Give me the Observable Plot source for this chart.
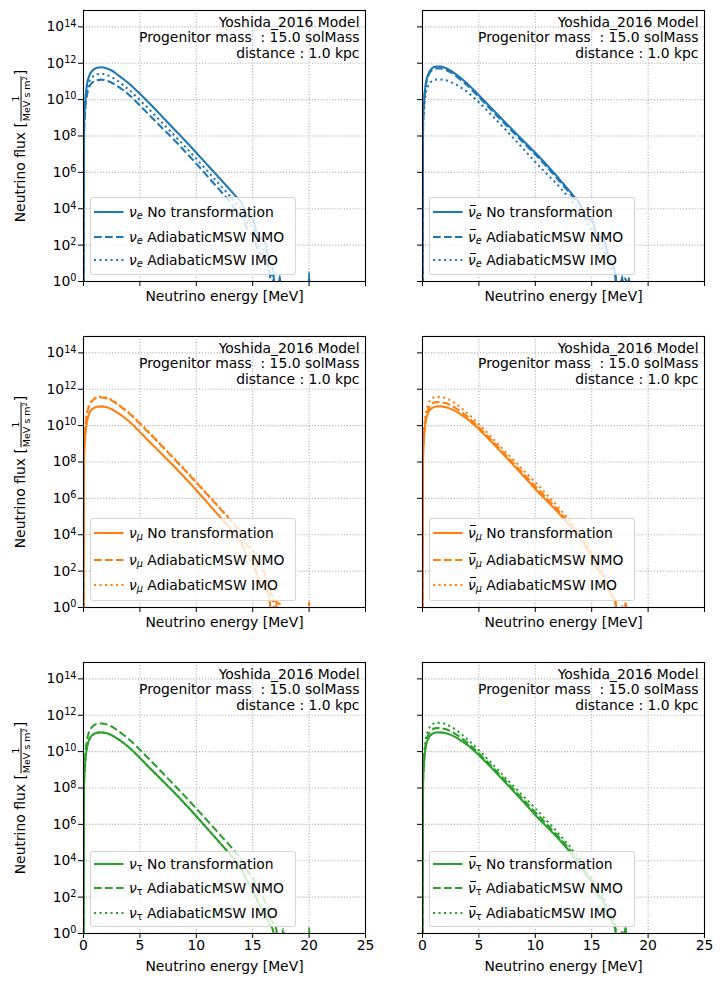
<!DOCTYPE html>
<html>
<head>
<meta charset="utf-8">
<script src="https://cdn.jsdelivr.net/npm/d3@7"></script>
<script src="https://cdn.jsdelivr.net/npm/@observablehq/plot@0.6"></script>
<style>
  body { margin: 0; background: #fff; font-family: "DejaVu Sans", sans-serif; }
  #fig { position: relative; width: 721px; height: 991px; background: #fff; }
  .panel { position: absolute; }
  .legend { position: absolute; box-sizing: border-box; width: 206px;
    background: rgba(255,255,255,0.8); border: 1px solid rgba(204,204,204,0.8);
    border-radius: 3px; font-size: 13.9px; color: #000; }
  .entry { position: absolute; left: 0; right: 0; height: 20px; transform: translateY(-50%); white-space: nowrap; }
  .entry svg { position: absolute; left: 3px; top: 9px; overflow: visible; }
  .entry .lbl { position: absolute; left: 38px; top: 0; line-height: 20px; }
  .nu { font-style: italic; }
  .bar { position: relative; display: inline-block; }
  .bar::before { content: ""; position: absolute; left: 0.12em; right: -0.02em; top: 0.2em; border-top: 1.2px solid currentColor; }
  .lbl sub { font-size: 0.7em; vertical-align: -0.25em; line-height: 0; }
  .lbl sub.it { font-style: italic; }
  .ylabel { position: absolute; white-space: nowrap; font-size: 13.9px; transform: translate(-50%, -50%) rotate(-90deg); }
  .frac { display: inline-flex; flex-direction: column; align-items: center; vertical-align: middle; font-size: 9.5px; line-height: 1.05; margin: 0 1px; }
  .frac .num { border-bottom: 0.8px solid #000; width: 100%; text-align: center; }
  .frac sup { font-size: 0.7em; vertical-align: 0.45em; line-height: 0; }
</style>
</head>
<body>
<div id="fig"></div>
<script>
// ---------------- data (flux given as log10 of 1/(MeV s m^2); null = zero flux) -------------
const energyMeV = [0, 0.05, 0.15, 0.3, 0.5, 0.8, 1.2, 1.6, 2, 2.5, 3, 3.5, 4, 5, 6, 7, 8, 9, 10, 11, 12, 12.5, 13, 13.5, 14, 14.5, 15, 15.5, 16, 16.5, 16.8, 17.1, 17.4, 17.7, 18, 18.3, 18.6, 19.9, 20, 20.1, 25];

const nue_none = [null, 8.6, 9.85, 10.8, 11.3, 11.6, 11.75, 11.78, 11.73, 11.6, 11.38, 11.15, 10.9, 10.32, 9.7, 9.05, 8.4, 7.75, 7.08, 6.4, 5.72, 5.38, 5.04, 4.68, 4.35, 3.6, 3.45, 2.4, 2.3, 1.1, 0.7, null, 0.3, null, null, null, null, null, 0.5, null, null];
const nue_nmo = [null, 8.21, 9.42, 10.23, 10.68, 10.95, 11.07, 11.1, 11.05, 10.93, 10.75, 10.53, 10.28, 9.68, 9.05, 8.43, 7.81, 7.15, 6.48, 5.78, 5.08, 4.73, 4.38, 3.93, 3.6, 2.9, 2.5, 1.7, 1.3, 0.45, null, null, null, null, null, null, null, null, null, null, null];
const nue_imo = [null, 8.36, 9.59, 10.48, 10.96, 11.25, 11.39, 11.42, 11.37, 11.24, 11.04, 10.81, 10.56, 9.97, 9.35, 8.71, 8.07, 7.42, 6.75, 6.06, 5.37, 5.03, 4.68, 4.3, 3.95, 3.25, 2.95, 2.0, 1.75, 0.6, 0.15, null, null, null, null, null, null, null, null, null, null];

const nuebar_none = [null, 8.8, 10.0, 10.9, 11.38, 11.7, 11.82, 11.82, 11.75, 11.6, 11.38, 11.13, 10.86, 10.24, 9.6, 8.96, 8.33, 7.7, 7.08, 6.42, 5.72, 5.36, 5.0, 4.62, 4.25, 3.5, 3.45, 2.45, 2.5, 1.3, 1.0, 0.4, null, 0.3, null, 0.2, null, null, null, null, null];
const nuebar_nmo = [null, 8.7, 9.9, 10.8, 11.28, 11.6, 11.72, 11.72, 11.65, 11.5, 11.28, 11.03, 10.76, 10.14, 9.5, 8.86, 8.23, 7.6, 6.98, 6.32, 5.62, 5.26, 4.9, 4.52, 4.15, 3.4, 3.35, 2.35, 2.4, 1.2, 0.9, 0.3, null, 0.2, null, 0.1, null, null, null, null, null];
const nuebar_imo = [null, 8.35, 9.55, 10.35, 10.75, 11.0, 11.1, 11.11, 11.07, 10.97, 10.82, 10.62, 10.41, 9.85, 9.23, 8.58, 7.92, 7.25, 6.57, 5.93, 5.3, 4.95, 4.6, 4.25, 3.85, 3.35, 2.85, 2.25, 1.75, 1.05, 0.65, 0.35, null, null, 0.25, null, null, null, null, null, null];

const numu_none = [null, 8.2, 9.4, 10.2, 10.65, 10.92, 11.04, 11.06, 11.02, 10.9, 10.72, 10.5, 10.25, 9.65, 9.02, 8.4, 7.78, 7.12, 6.45, 5.75, 5.05, 4.7, 4.35, 3.9, 3.55, 2.8, 2.5, 1.6, 1.3, 0.4, null, 0.2, null, null, null, null, null, null, null, null, null];
const numu_nmo = [null, 8.44, 9.68, 10.6, 11.09, 11.38, 11.53, 11.55, 11.51, 11.38, 11.17, 10.94, 10.69, 10.1, 9.48, 8.84, 8.19, 7.54, 6.87, 6.19, 5.5, 5.16, 4.82, 4.45, 4.1, 3.4, 3.2, 2.2, 2.0, 0.9, 0.5, 0.3, 0.15, null, null, null, null, null, 0.3, null, null];
const numu_imo = [null, 8.48, 9.72, 10.64, 11.13, 11.42, 11.57, 11.59, 11.55, 11.42, 11.21, 10.98, 10.73, 10.14, 9.52, 8.88, 8.23, 7.58, 6.91, 6.23, 5.54, 5.2, 4.86, 4.5, 4.05, 3.5, 3.15, 2.3, 1.9, 1.0, 0.4, null, 0.2, null, null, null, null, null, 0.3, null, null];

const numubar_none = [null, 8.3, 9.5, 10.3, 10.7, 10.95, 11.05, 11.06, 11.02, 10.92, 10.77, 10.57, 10.36, 9.8, 9.18, 8.53, 7.87, 7.2, 6.52, 5.88, 5.25, 4.9, 4.55, 4.2, 3.8, 3.3, 2.8, 2.2, 1.7, 1.0, 0.6, 0.3, null, null, 0.2, null, null, null, null, null, null];
const numubar_nmo = [null, 8.42, 9.62, 10.46, 10.9, 11.18, 11.29, 11.29, 11.24, 11.12, 10.93, 10.72, 10.48, 9.9, 9.28, 8.63, 7.98, 7.32, 6.67, 6.02, 5.36, 5.01, 4.65, 4.3, 3.9, 3.4, 2.9, 2.3, 1.8, 1.1, 0.7, 0.35, null, null, 0.25, null, null, null, null, null, null];
const numubar_imo = [null, 8.61, 9.81, 10.69, 11.16, 11.46, 11.58, 11.58, 11.52, 11.38, 11.17, 10.93, 10.67, 10.07, 9.44, 8.79, 8.15, 7.51, 6.88, 6.22, 5.54, 5.18, 4.83, 4.46, 4.05, 3.5, 3.0, 2.4, 2.0, 1.2, 0.8, 0.3, null, 0.1, null, null, null, null, null, null, null];

const nutau_none = [null, 8.2, 9.4, 10.2, 10.65, 10.92, 11.04, 11.06, 11.02, 10.9, 10.72, 10.5, 10.25, 9.65, 9.02, 8.4, 7.78, 7.12, 6.45, 5.75, 5.05, 4.7, 4.35, 3.95, 3.5, 2.9, 2.4, 1.7, 1.2, 0.5, 0.2, null, null, null, null, null, null, null, null, null, null];
const nutau_nmo = [null, 8.44, 9.68, 10.6, 11.09, 11.38, 11.53, 11.55, 11.51, 11.38, 11.17, 10.94, 10.69, 10.1, 9.48, 8.84, 8.19, 7.54, 6.87, 6.19, 5.5, 5.16, 4.82, 4.45, 4.05, 3.45, 3.1, 2.3, 1.9, 0.9, 0.6, 0.2, null, 0.25, null, null, null, null, 0.3, null, null];
const nutau_imo = [null, 8.2, 9.4, 10.2, 10.65, 10.92, 11.04, 11.06, 11.02, 10.9, 10.72, 10.5, 10.25, 9.65, 9.02, 8.4, 7.78, 7.12, 6.45, 5.75, 5.05, 4.7, 4.35, 3.95, 3.5, 2.9, 2.4, 1.7, 1.2, 0.5, 0.2, null, null, null, null, null, null, null, null, null, null];

const nutaubar_none = [null, 8.3, 9.5, 10.3, 10.7, 10.95, 11.05, 11.06, 11.02, 10.92, 10.77, 10.57, 10.36, 9.8, 9.18, 8.53, 7.87, 7.2, 6.52, 5.88, 5.25, 4.9, 4.55, 4.15, 3.85, 3.2, 2.85, 2.1, 1.8, 0.9, 0.7, 0.2, null, null, 0.3, null, null, null, null, null, null];
const nutaubar_nmo = [null, 8.42, 9.62, 10.46, 10.9, 11.18, 11.29, 11.29, 11.24, 11.12, 10.93, 10.72, 10.48, 9.9, 9.28, 8.63, 7.98, 7.32, 6.67, 6.02, 5.36, 5.01, 4.65, 4.25, 3.95, 3.3, 2.95, 2.2, 1.9, 1.0, 0.8, 0.3, null, null, 0.3, null, null, null, null, null, null];
const nutaubar_imo = [null, 8.61, 9.81, 10.69, 11.16, 11.46, 11.58, 11.58, 11.52, 11.38, 11.17, 10.93, 10.67, 10.07, 9.44, 8.79, 8.15, 7.51, 6.88, 6.22, 5.54, 5.18, 4.83, 4.42, 4.1, 3.4, 3.05, 2.3, 2.1, 1.1, 0.9, 0.2, null, 0.2, null, null, null, null, null, null, null];

const xTicks = [0, 5, 10, 15, 20, 25];
const yTicks = [1e0, 1e2, 1e4, 1e6, 1e8, 1e10, 1e12, 1e14];
const xLabel = "Neutrino energy [MeV]";
const annotationLines = ["Yoshida_2016 Model", "Progenitor mass\u00a0 : 15.0 solMass", "distance : 1.0 kpc"];
const transformationLabels = ["No transformation", "AdiabaticMSW NMO", "AdiabaticMSW IMO"];
const flavorColors = { e: "#1f77b4", mu: "#ff7f0e", tau: "#2ca02c" };

const panels = [
  { row: 0, col: 0, color: flavorColors.e,   bar: false, sub: "e", subItalic: true,  series: [nue_none, nue_nmo, nue_imo] },
  { row: 0, col: 1, color: flavorColors.e,   bar: true,  sub: "e", subItalic: true,  series: [nuebar_none, nuebar_nmo, nuebar_imo] },
  { row: 1, col: 0, color: flavorColors.mu,  bar: false, sub: "μ", subItalic: true,  series: [numu_none, numu_nmo, numu_imo] },
  { row: 1, col: 1, color: flavorColors.mu,  bar: true,  sub: "μ", subItalic: true,  series: [numubar_none, numubar_nmo, numubar_imo] },
  { row: 2, col: 0, color: flavorColors.tau, bar: false, sub: "τ", subItalic: false, series: [nutau_none, nutau_nmo, nutau_imo] },
  { row: 2, col: 1, color: flavorColors.tau, bar: true,  sub: "τ", subItalic: false, series: [nutaubar_none, nutaubar_nmo, nutaubar_imo] }
];

// ---------------- layout -------------
const rowTop = [0, 326, 652];
const colLeft = [0, 360];
const mLeft = [83, 62], mRight = [5, 10];
const mTop = 10, plotH = 271, plotW = 282;
const dashes = [null, "7.7,3.3", "2.1,3.4"];
const legendH = [78.5, 83, 76.5];
const legendRows = [[14.3, 39, 62.6], [13.5, 41, 65.5], [12, 36.6, 61.3]];

const supDigits = {"0":"⁰","1":"¹","2":"²","3":"³","4":"⁴","5":"⁵","6":"⁶","7":"⁷","8":"⁸","9":"⁹"};
const fromSup = Object.fromEntries(Object.entries(supDigits).map(([k, v]) => [v, k]));
const fmtPow = d => "10" + String(Math.round(Math.log10(d))).split("").map(c => supDigits[c]).join("");

const fig = document.getElementById("fig");
const SVGNS = "http://www.w3.org/2000/svg";

for (const p of panels) {
  const bottomRow = p.row === 2;
  const mBottom = bottomRow ? 50 : 45;
  const width = mLeft[p.col] + plotW + mRight[p.col];
  const height = mTop + plotH + mBottom;

  const marks = [
    Plot.ruleX(xTicks, { stroke: "#b0b0b0", strokeWidth: 1.1, strokeDasharray: "1.1,1.8" }),
    Plot.ruleY(yTicks, { stroke: "#b0b0b0", strokeWidth: 1.1, strokeDasharray: "1.1,1.8" })
  ];
  p.series.forEach((vals, i) => {
    const rows = energyMeV.map((e, k) => ({ energy: e, flux: vals[k] == null ? 0 : 10 ** vals[k] }));
    marks.push(Plot.line(rows, {
      x: "energy",
      y: d => Math.max(d.flux, 1e-2),   // non-positive flux clipped below the axis, as matplotlib does
      stroke: p.color, strokeWidth: 2.08,
      strokeDasharray: dashes[i] ?? undefined,
      strokeLinecap: i === 0 ? "square" : "butt",
      curve: "monotone-x", clip: true
    }));
  });
  marks.push(Plot.frame({ stroke: "black", strokeWidth: 1.1 }));
  marks.push(Plot.text([annotationLines.join("\n")], {
    text: d => d, frameAnchor: "top-right", dx: -6, dy: 5, lineAnchor: "top",
    textAnchor: "end", lineHeight: 1.13, fontSize: 13.9, fill: "black"
  }));
  marks.push(Plot.text([xLabel], {
    text: d => d, frameAnchor: "bottom", dy: bottomRow ? 37 : 19, fontSize: 13.9, fill: "black"
  }));

  const chart = Plot.plot({
    width, height,
    marginLeft: mLeft[p.col], marginRight: mRight[p.col], marginTop: mTop, marginBottom: mBottom,
    style: { fontFamily: "DejaVu Sans", fontSize: "13.9px", background: "none", color: "black", overflow: "visible" },
    x: { domain: [0, 25], ticks: xTicks, tickSize: 5, tickPadding: 2,
         tickFormat: bottomRow ? (d => String(d)) : (() => ""), label: null },
    y: { type: "log", domain: [1, 10 ** 14.9], ticks: yTicks, tickSize: 5, tickPadding: 2,
         tickFormat: p.col === 0 ? fmtPow : (() => ""), label: null },
    marks
  });

  // typeset "10^n" tick labels with a real raised superscript (like matplotlib mathtext)
  chart.querySelectorAll("text").forEach(t => {
    const m = /^10([⁰¹²³⁴⁵⁶⁷⁸⁹]+)$/.exec(t.textContent);
    if (!m) return;
    const exp = m[1].split("").map(c => fromSup[c]).join("");
    t.textContent = "10";
    const ts = document.createElementNS(SVGNS, "tspan");
    ts.setAttribute("dy", "-4.6");
    ts.setAttribute("font-size", "9.7");
    ts.textContent = exp;
    t.appendChild(ts);
  });

  const holder = document.createElement("div");
  holder.className = "panel";
  holder.style.left = colLeft[p.col] + "px";
  holder.style.top = rowTop[p.row] + "px";
  holder.style.width = width + "px";
  holder.style.height = height + "px";
  holder.appendChild(chart);
  fig.appendChild(holder);

  // legend (inside the axes, lower left, semi-transparent like matplotlib's framealpha 0.8)
  const plotLeft = colLeft[p.col] + mLeft[p.col];
  const plotBottom = rowTop[p.row] + mTop + plotH;
  const lg = document.createElement("div");
  lg.className = "legend";
  lg.style.left = (plotLeft + 7) + "px";
  lg.style.height = legendH[p.row] + "px";
  lg.style.top = (plotBottom - 6 - legendH[p.row]) + "px";
  const nu = p.bar ? '<span class="nu bar">ν</span>' : '<span class="nu">ν</span>';
  const flavor = nu + `<sub class="${p.subItalic ? "it" : ""}">${p.sub}</sub>`;
  transformationLabels.forEach((t, i) => {
    const en = document.createElement("div");
    en.className = "entry";
    en.style.top = legendRows[p.row][i] + "px";
    const dash = dashes[i] ? `stroke-dasharray="${dashes[i]}"` : "";
    en.innerHTML = `<svg width="30" height="2"><line x1="0" y1="1" x2="29.5" y2="1" stroke="${p.color}" stroke-width="2.08" ${dash}/></svg>` +
      `<span class="lbl">${flavor} ${t}</span>`;
    lg.appendChild(en);
  });
  fig.appendChild(lg);

  if (p.col === 0) {
    const yl = document.createElement("div");
    yl.className = "ylabel";
    yl.style.left = "20.5px";
    yl.style.top = (rowTop[p.row] + mTop + plotH / 2) + "px";
    yl.innerHTML = 'Neutrino flux [<span class="frac"><span class="num">1</span><span class="den">MeV s m<sup>2</sup></span></span>]';
    fig.appendChild(yl);
  }
}
</script>
</body>
</html>
